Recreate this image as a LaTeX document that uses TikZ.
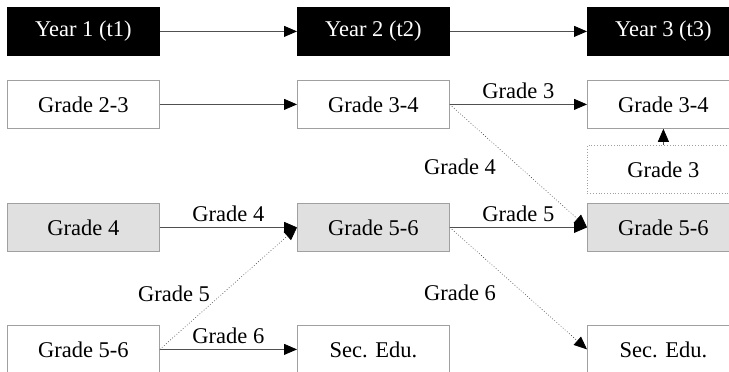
\documentclass[tikz,border=0pt]{standalone}
\usepackage{fontspec}
\setmainfont{Liberation Serif}
\newfontfamily\tms{Liberation Serif}
\usetikzlibrary{arrows.meta}
\definecolor{boxline}{HTML}{A0A0A0}
\definecolor{shade}{HTML}{E0E0E0}
\definecolor{wire}{HTML}{505050}
\tikzset{
  cell/.style={draw=boxline, line width=0.8pt, minimum width=152pt, minimum height=48pt,
    inner sep=0pt, font=\tms\fontsize{22.5}{26}\selectfont, anchor=north west},
  yearcell/.style={cell, fill=black, draw=black, text=white},
  greycell/.style={cell, fill=shade},
  dotcell/.style={cell, draw=boxline, dotted},
  flow/.style={draw=wire, line width=0.8pt,
    -{Triangle[length=13pt,width=11pt,color=black,fill=black]}},
  jump/.style={flow, dotted, line width=0.6pt},
  lab/.style={font=\tms\fontsize{22.5}{26}\selectfont, inner sep=0pt}
}
\begin{document}
\begin{tikzpicture}[x=1pt, y=-1pt]
\useasboundingbox (0,0) rectangle (729,372);
\clip (0,0) rectangle (729,372);

% header row
\node[yearcell] (y1) at (7,7) {Year 1 (t1)};
\node[yearcell] (y2) at (297,7) {Year 2 (t2)};
\node[yearcell] (y3) at (587,7) {Year 3 (t3)};

% grade rows
\node[cell] (a1) at (7,80) {Grade 2-3};
\node[cell] (a2) at (297,80) {Grade 3-4};
\node[cell] (a3) at (587,80) {Grade 3-4};

\node[dotcell] (r3) at (587,145) {Grade 3};

\node[greycell] (b1) at (7,203) {Grade 4};
\node[greycell] (b2) at (297,203) {Grade 5-6};
\node[greycell] (b3) at (587,203) {Grade 5-6};

\node[cell] (c1) at (7,325) {Grade 5-6};
\node[cell] (c2) at (297,325) {Sec. Edu.};
\node[cell] (c3) at (587,325) {Sec. Edu.};

% timeline
\draw[flow] (y1.east) -- (y2.west);
\draw[flow] (y2.east) -- (y3.west);

% transitions
\draw[flow] (a1.east) -- (a2.west);
\draw[flow] (a2.east) -- node[lab, above=5pt] {Grade 3} (a3.west);
\draw[jump] (a2.east) -- (b3.west);
\node[lab] (l4) at (460,167) {Grade 4};
\draw[flow] (r3.north) -- (a3.south);

\draw[flow] (b1.east) -- node[lab, above=5pt] {Grade 4} (b2.west);
\draw[flow] (b2.east) -- node[lab, above=5pt] {Grade 5} (b3.west);
\draw[jump] (b2.east) -- (c3.west);
\node[lab] (l6) at (460,293) {Grade 6};

\draw[flow] (c1.east) -- node[lab, above=5pt] {Grade 6} (c2.west);
\draw[jump] (c1.east) -- (b2.west);
\node[lab] (l5) at (174,294) {Grade 5};
\end{tikzpicture}
\end{document}
